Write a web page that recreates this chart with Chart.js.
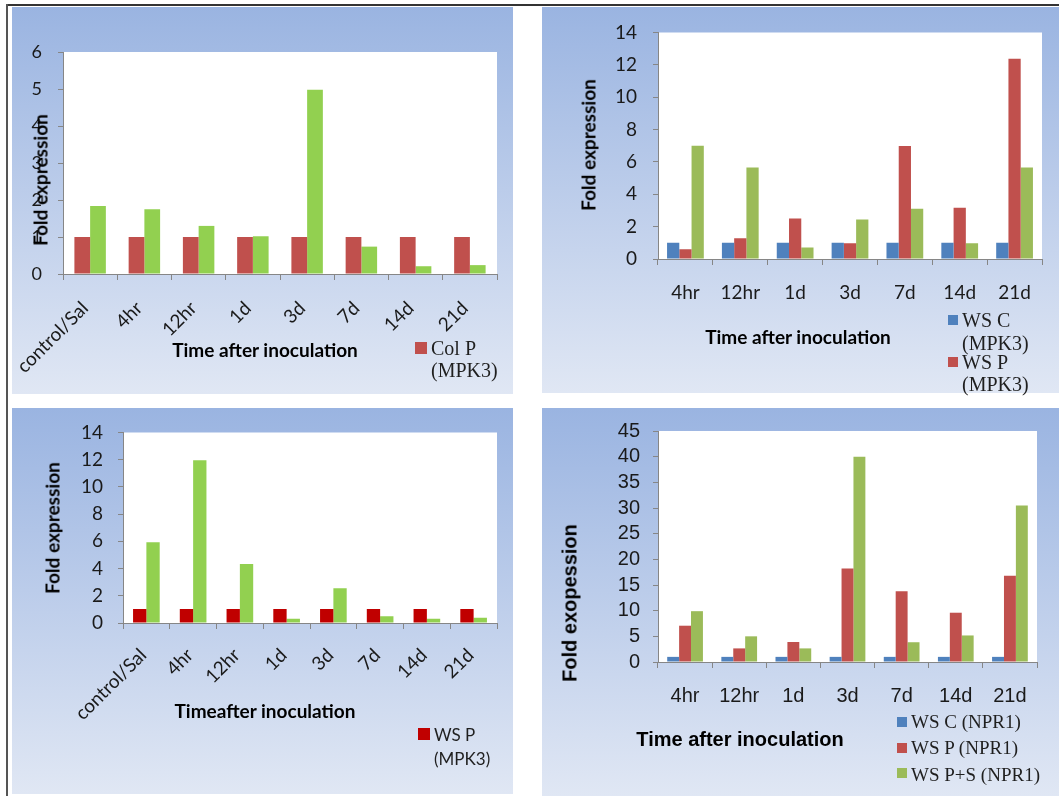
<!DOCTYPE html>
<html>
<head>
<meta charset="utf-8">
<script src="https://cdn.jsdelivr.net/npm/chart.js"></script>
<style>
  body { margin: 0; width: 1059px; height: 796px; background: #fff; position: relative; overflow: hidden; }
  .frameTop { position: absolute; left: 6px; top: 4px; width: 1053px; height: 2px; background: #333; }
  .frameLeft { position: absolute; left: 6px; top: 4px; width: 2px; height: 792px; background: #555; }
  .panel { position: absolute; background: linear-gradient(#9ab4e1, #e0e7f4); }
  .panel canvas { position: absolute; left: 0; top: 0; }
  .txt { position: absolute; white-space: nowrap; color: #000; line-height: 1; }
  .rot { transform: translate(-50%, -50%) rotate(-90deg); }
  .ctr { transform: translate(-50%, -50%); }
  .sq { position: absolute; }
</style>
</head>
<body>
<div class="frameTop"></div>
<div class="frameLeft"></div>

<div class="panel" id="p1" style="left:12px;top:7px;width:501px;height:387px"><canvas id="c1" width="501" height="387"></canvas></div>
<div class="panel" id="p2" style="left:542px;top:7px;width:517px;height:386px"><canvas id="c2" width="517" height="386"></canvas></div>
<div class="panel" id="p3" style="left:12px;top:408px;width:501px;height:386px"><canvas id="c3" width="501" height="386"></canvas></div>
<div class="panel" id="p4" style="left:542px;top:408px;width:517px;height:388px"><canvas id="c4" width="517" height="388"></canvas></div>

<script>
// ---- data ----
const timesWithControl = ['control/Sal', '4hr', '12hr', '1d', '3d', '7d', '14d', '21d'];
const times = ['4hr', '12hr', '1d', '3d', '7d', '14d', '21d'];

// panel 1 (Col, MPK3)
const colP = [1, 1, 1, 1, 1, 1, 1, 1];
const colPS = [1.84, 1.75, 1.3, 1.02, 4.98, 0.74, 0.21, 0.24];

// panel 2 (WS, MPK3)
const wsC_mpk3 = [1, 1, 1, 1, 1, 1, 1];
const wsP_mpk3 = [0.61, 1.28, 2.5, 0.98, 6.98, 3.17, 12.37];
const wsPS_mpk3 = [7.0, 5.65, 0.71, 2.44, 3.11, 0.98, 5.65];

// panel 3 (WS P, MPK3)
const wsP_mpk3b = [1.02, 1.02, 1.02, 1.02, 1.02, 1.02, 1.02, 1.02];
const wsPS_mpk3b = [5.94, 11.96, 4.34, 0.32, 2.56, 0.49, 0.32, 0.39];

// panel 4 (WS, NPR1)
const wsC_npr1 = [1, 1, 1, 1, 1, 1, 1];
const wsP_npr1 = [7.07, 2.65, 3.9, 18.2, 13.8, 9.6, 16.8];
const wsPS_npr1 = [9.9, 5.0, 2.65, 40.0, 3.85, 5.17, 30.5];

const BLUE = '#4f81bd', RED = '#c0504d', DARKRED = '#c00000', GREEN = '#92d050', OLIVE = '#9bbb59';

// white plot area
const plotBg = {
  id: 'plotBg',
  beforeDraw(chart) {
    const a = chart.chartArea, ctx = chart.ctx;
    ctx.save();
    ctx.fillStyle = '#ffffff';
    ctx.fillRect(a.left, a.top, a.right - a.left, a.bottom - a.top);
    ctx.restore();
  }
};

function barChart(id, labels, datasets, opt) {
  return new Chart(document.getElementById(id), {
    type: 'bar',
    data: { labels: labels, datasets: datasets },
    plugins: [plotBg],
    options: {
      responsive: false,
      animation: false,
      layout: { padding: { left: 0, top: opt.top, right: opt.right, bottom: 0 } },
      plugins: { legend: { display: false }, tooltip: { enabled: false } },
      datasets: { bar: { categoryPercentage: opt.catPct, barPercentage: 1 } },
      scales: {
        x: {
          grid: { offset: true, drawOnChartArea: false, tickLength: 6, color: '#868686' },
          border: { color: '#868686' },
          ticks: {
            color: '#1a1a1a', font: opt.xFont, padding: opt.xPad, labelOffset: opt.xOff || 0,
            minRotation: opt.rot, maxRotation: opt.rot, autoSkip: false
          },
          afterFit(s) {
            s.height = opt.xH;
            // rotated labels may hang past the axis; let them
            s.paddingLeft = 0;
            s.paddingRight = 0;
          }
        },
        y: {
          min: 0, max: opt.yMax,
          grid: { drawOnChartArea: false, tickLength: 5, color: '#868686' },
          border: { color: '#868686' },
          ticks: {
            stepSize: opt.step, autoSkip: false, maxTicksLimit: 50,
            color: '#1a1a1a', font: Object.assign({ lineHeight: 1 }, opt.yFont), padding: opt.yPad
          },
          afterFit(s) { s.width = opt.yW; }
        }
      }
    }
  });
}

function addText(panelId, text, x, y, css, cls) {
  const d = document.createElement('div');
  d.className = 'txt ' + (cls || '');
  d.textContent = text;
  d.style.left = x + 'px';
  d.style.top = y + 'px';
  d.style.cssText += css;
  document.getElementById(panelId).appendChild(d);
}

function addLegend(panelId, items, x, font, sq) {
  items.forEach(function (it) {
    const s = document.createElement('div');
    s.className = 'sq';
    s.style.cssText = 'left:' + x + 'px;top:' + it.sqY + 'px;width:' + sq + 'px;height:' + sq + 'px;background:' + it.color;
    document.getElementById(panelId).appendChild(s);
    it.lines.forEach(function (ln, i) {
      addText(panelId, ln, x + sq + 4, it.textY[i], 'font:' + font + ';transform:translateY(-50%);color:#1f1f1f');
    });
  });
}

const lato = 'Lato, "Open Sans", sans-serif';
const arial = '"Liberation Sans", Arial, sans-serif';
const serif = '"Liberation Serif", "Times New Roman", serif';

// ---- panel 1 ----
barChart('c1', timesWithControl, [
  { label: 'Col P (MPK3)', data: colP, backgroundColor: RED },
  { label: 'Col P+S (MPK3)', data: colPS, backgroundColor: GREEN }
], { top: 45, right: 16, yW: 51, xH: 120, yMax: 6, step: 1, catPct: 0.58, rot: 45,
     xFont: { family: lato, size: 19 }, yFont: { family: lato, size: 18 }, xPad: 17, xOff: -5, yPad: 16 });
addText('p1', 'Fold expression', 28, 173, 'font:bold 19px ' + lato, 'rot');
addText('p1', 'Time after inoculation', 253, 342, 'font:bold 19px ' + lato, 'ctr');
addLegend('p1', [{ color: RED, sqY: 335, lines: ['Col P', '(MPK3)'], textY: [341, 363] }], 403, '20px ' + serif, 12);

// ---- panel 2 ----
barChart('c2', times, [
  { label: 'WS C (MPK3)', data: wsC_mpk3, backgroundColor: BLUE },
  { label: 'WS P (MPK3)', data: wsP_mpk3, backgroundColor: RED },
  { label: 'WS P+S (MPK3)', data: wsPS_mpk3, backgroundColor: OLIVE }
], { top: 23, right: 17, yW: 116, xH: 134, yMax: 14, step: 2, catPct: 0.67, rot: 0,
     xFont: { family: lato, size: 19 }, yFont: { family: lato, size: 19 }, xPad: 16, yPad: 16 });
addText('p2', 'Fold expression', 46, 138, 'font:bold 19px ' + lato, 'rot');
addText('p2', 'Time after inoculation', 256, 329, 'font:bold 19px ' + lato, 'ctr');
addLegend('p2', [
  { color: BLUE, sqY: 308, lines: ['WS C', '(MPK3)'], textY: [313, 336] },
  { color: RED, sqY: 350, lines: ['WS P', '(MPK3)'], textY: [355, 377] }
], 406, '20px ' + serif, 10);

// ---- panel 3 ----
barChart('c3', timesWithControl, [
  { label: 'WS P (MPK3)', data: wsP_mpk3b, backgroundColor: DARKRED },
  { label: 'WS P+S (MPK3)', data: wsPS_mpk3b, backgroundColor: GREEN }
], { top: 23, right: 16, yW: 111, xH: 171, yMax: 14, step: 2, catPct: 0.57, rot: 45,
     xFont: { family: lato, size: 19 }, yFont: { family: lato, size: 19 }, xPad: 15, xOff: -3, yPad: 15 });
addText('p3', 'Fold expression', 40, 120, 'font:bold 19px ' + lato, 'rot');
addText('p3', 'Timeafter inoculation', 253, 302, 'font:bold 19px ' + lato, 'ctr');
addLegend('p3', [{ color: DARKRED, sqY: 320, lines: ['WS P', '(MPK3)'], textY: [326, 350] }], 406, '17px ' + lato, 12);

// ---- panel 4 ----
barChart('c4', times, [
  { label: 'WS C (NPR1)', data: wsC_npr1, backgroundColor: BLUE },
  { label: 'WS P (NPR1)', data: wsP_npr1, backgroundColor: RED },
  { label: 'WS P+S (NPR1)', data: wsPS_npr1, backgroundColor: OLIVE }
], { top: 15, right: 22, yW: 116, xH: 134, yMax: 45, step: 5, catPct: 0.66, rot: 0,
     xFont: { family: arial, size: 20 }, yFont: { family: arial, size: 20 }, xPad: 16, yPad: 13 });
addText('p4', 'Fold exopession', 28, 195, 'font:bold 20px ' + arial, 'rot');
addText('p4', 'Time after inoculation', 198, 331, 'font:bold 20px ' + arial, 'ctr');
addLegend('p4', [
  { color: BLUE, sqY: 309, lines: ['WS C (NPR1)'], textY: [314] },
  { color: RED, sqY: 335, lines: ['WS P (NPR1)'], textY: [340] },
  { color: OLIVE, sqY: 360, lines: ['WS P+S (NPR1)'], textY: [367] }
], 355, '19px ' + serif, 10);
</script>
</body>
</html>
